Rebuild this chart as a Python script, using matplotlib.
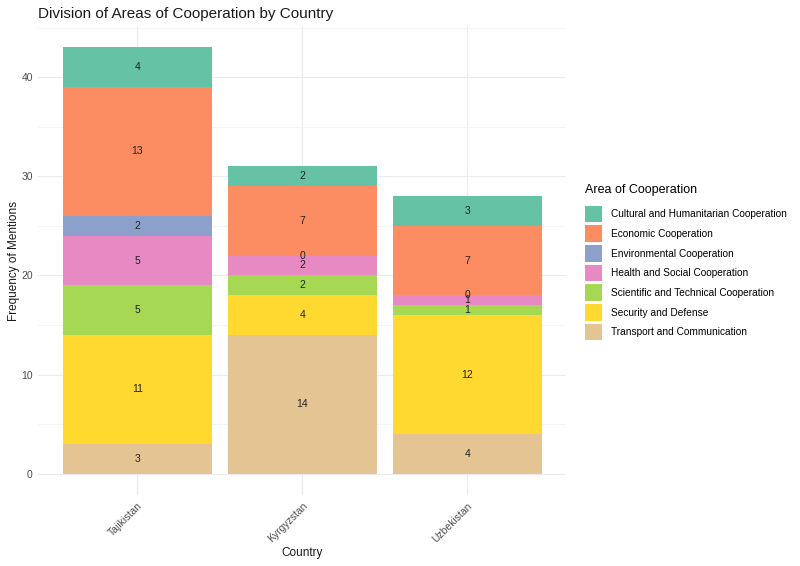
import matplotlib
matplotlib.use("Agg")
import matplotlib.pyplot as plt
from matplotlib.patches import Patch
import numpy as np

plt.rcParams['font.family'] = ['Liberation Sans', 'DejaVu Sans']

countries = ["Tajikistan", "Kyrgyzstan", "Uzbekistan"]
# stacking order bottom -> top
areas = ["Transport and Communication", "Security and Defense",
         "Scientific and Technical Cooperation", "Health and Social Cooperation",
         "Environmental Cooperation", "Economic Cooperation",
         "Cultural and Humanitarian Cooperation"]
transport = [3, 14, 4]
security = [11, 4, 12]
scientific = [5, 2, 1]
health = [5, 2, 1]
environmental = [2, 0, 0]
economic = [13, 7, 7]
cultural = [4, 2, 3]
values = [transport, security, scientific, health, environmental, economic, cultural]
colors = {
    "Cultural and Humanitarian Cooperation": "#66C2A5",
    "Economic Cooperation": "#FC8D62",
    "Environmental Cooperation": "#8DA0CB",
    "Health and Social Cooperation": "#E78AC3",
    "Scientific and Technical Cooperation": "#A6D854",
    "Security and Defense": "#FFD92F",
    "Transport and Communication": "#E5C494",
}
legend_order = ["Cultural and Humanitarian Cooperation", "Economic Cooperation",
                "Environmental Cooperation", "Health and Social Cooperation",
                "Scientific and Technical Cooperation", "Security and Defense",
                "Transport and Communication"]

fig = plt.figure(figsize=(8, 5.66), dpi=100)
ax = fig.add_axes([0.048, 0.1254, 0.66, 0.8286])

x = np.arange(1, len(countries) + 1)
bottom = np.zeros(len(countries))
for name, vals in zip(areas, values):
    vals = np.array(vals, dtype=float)
    ax.bar(x, vals, width=0.9, bottom=bottom, color=colors[name], zorder=2)
    for xi, b, v in zip(x, bottom, vals):
        ax.text(xi, b + v / 2, f"{int(v)}", ha='center', va='center',
                fontsize=7.5, color='#222222', zorder=3)
    bottom += vals

top = bottom.max()
ax.set_ylim(-0.05 * top, top * 1.05)
ax.set_xlim(0.4, 3.6)
ax.set_yticks([0, 10, 20, 30, 40])
ax.set_yticks([5, 15, 25, 35, 45], minor=True)
ax.set_xticks(x)
ax.set_xticklabels(countries, rotation=45, ha='right', va='top', rotation_mode='anchor')
ax.grid(True, which='major', color='#EBEBEB', linewidth=0.8, zorder=0)
ax.grid(True, which='minor', axis='y', color='#F2F2F2', linewidth=0.5, zorder=0)
ax.tick_params(which='both', length=0, labelsize=7.5, labelcolor='#4D4D4D', pad=4)
for s in ax.spines.values():
    s.set_visible(False)
ax.set_xlabel("Country", fontsize=8.5, color='#1A1A1A', labelpad=2)
ax.set_ylabel("Frequency of Mentions", fontsize=8.5, color='#1A1A1A', labelpad=1)
fig.text(0.048, 0.975, "Division of Areas of Cooperation by Country", fontsize=11,
         color='#1A1A1A', ha='left', va='center')

handles = [Patch(facecolor=colors[n], edgecolor='none', label=n) for n in legend_order]
leg = fig.legend(handles=handles, loc='upper left', bbox_to_anchor=(0.731, 0.675),
                 frameon=False, fontsize=7.3, title="Area of Cooperation",
                 title_fontsize=9, handlelength=1.7, handleheight=2.15,
                 labelspacing=0.3, handletextpad=0.9, borderaxespad=0,
                 borderpad=0)
leg._legend_box.align = "left"
leg._legend_box.sep = 7

fig.savefig("out.png", dpi=100)
